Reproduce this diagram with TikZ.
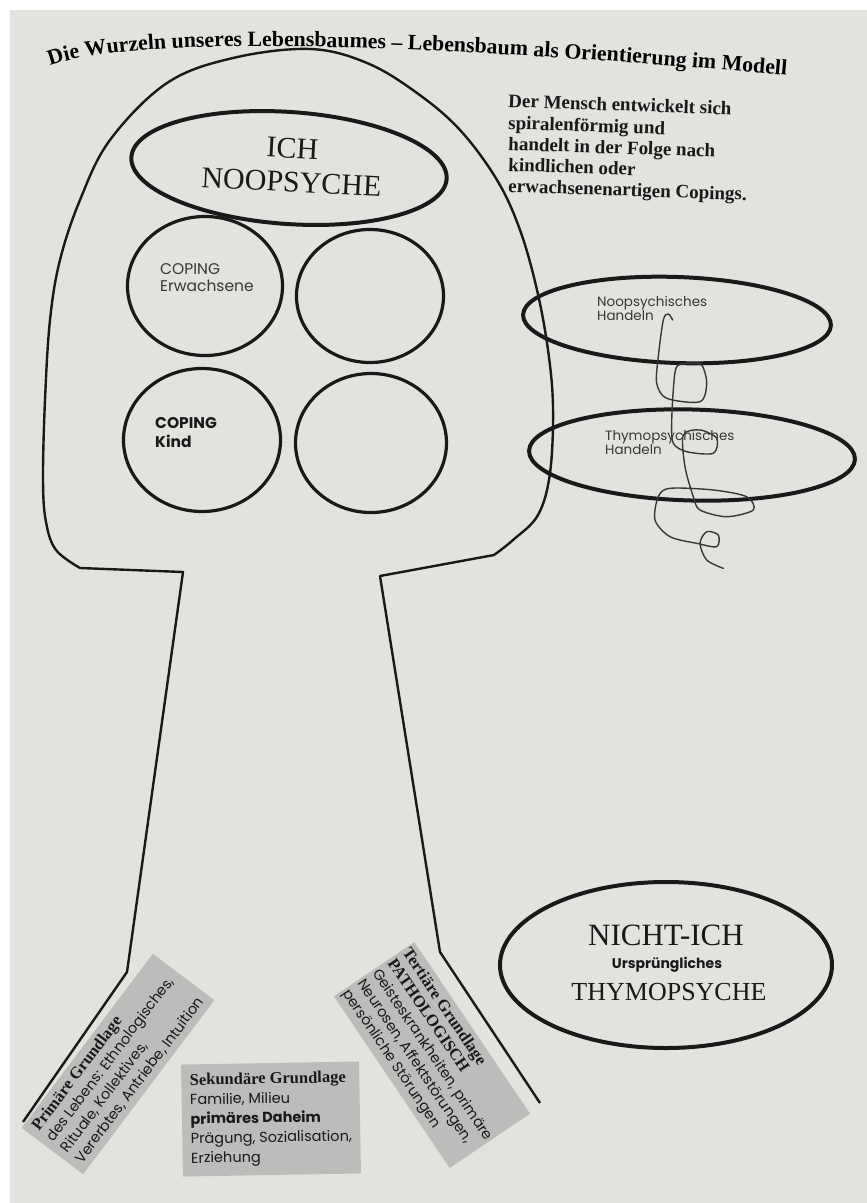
\documentclass[tikz,border=0pt]{standalone}
\usepackage{fontspec}
\setmainfont{Liberation Serif}
\newfontfamily\gothic{Poppins}
\usetikzlibrary{shapes.geometric,decorations.text}
\definecolor{paper}{RGB}{227,226,223}
\definecolor{ink}{RGB}{25,25,25}
\definecolor{boxgrey}{RGB}{188,188,186}
\definecolor{softink}{RGB}{55,55,55}
\newcommand\bxhead{\rmfamily\bfseries\fontsize{16.5}{18}\selectfont}
\begin{document}
\begin{tikzpicture}[x=1pt,y=-1pt,
  thickring/.style={draw=ink, line width=4pt, ellipse, inner sep=0pt},
  ring/.style={draw=ink, line width=3.2pt, ellipse, inner sep=0pt},
  outline/.style={draw=ink, line width=2.4pt, line join=round},
  serifbig/.style={font=\fontsize{30}{34}\selectfont, inner sep=0pt, anchor=base, text=ink},
  gothtext/.style={font=\gothic\fontsize{15.5}{17}\selectfont, text=softink, inner sep=0pt, anchor=base west},
  smallgoth/.style={font=\gothic\fontsize{13.5}{15}\selectfont, text=softink, inner sep=0pt, anchor=base west},
  greybox/.style={fill=boxgrey, inner sep=0pt, align=left, font=\gothic\fontsize{14.5}{18}\selectfont, text=ink},
  righttext/.style={font=\bfseries\fontsize{19}{21}\selectfont, inner sep=0pt, anchor=base west, rotate=-2, text=ink},
]
\useasboundingbox (0,0) rectangle (867,1203);
\fill[white] (0,0) rectangle (867,1203);
\fill[paper] (10,10) rectangle (867,1203);

% title
\path[decorate, decoration={text along path, text align=left,
  text={|\bfseries\fontsize{21.8}{24}\selectfont|Die Wurzeln unseres Lebensbaumes – Lebensbaum als Orientierung im Modell}}]
  (50,66) .. controls (130,36) and (400,40) .. (840,80);

% right text
\node[righttext] (r1) at (508,107) {Der Mensch entwickelt sich};
\node[righttext] (r2) at (508,129) {spiralenförmig und};
\node[righttext] (r3) at (508,150) {handelt in der Folge nach};
\node[righttext] (r4) at (508,171) {kindlichen oder};
\node[righttext] (r5) at (508,192) {erwachsenenartigen Copings.};

% tree outline
\draw[outline] (23,1122) -- (127,972) -- (183,572) -- (80,568)
  -- plot[smooth, tension=0.6] coordinates {(80,568) (56,550) (46,522) (43,480) (45,400) (50,320) (60,260) (80,200) (110,140) (167,83) (233,58) (310,49) (367,63) (417,93) (460,130) (497,180) (520,230) (537,290) (548,350) (553,407) (550,473) (538,515) (513,540) (494,555)}
  -- (380,576) -- (440,952) -- (540,1103);

% ellipses
\node[thickring, minimum width=316, minimum height=112, rotate=-4] (ich) at (289,168) {};
\node[ring, minimum width=155, minimum height=139] (tl) at (205,286) {};
\node[ring, minimum width=147, minimum height=133] (tr) at (370,296) {};
\node[ring, minimum width=157, minimum height=143] (bl) at (202,440) {};
\node[ring, minimum width=151, minimum height=139] (br) at (371,443) {};
\node[thickring, minimum width=308, minimum height=86, rotate=-2] (noo) at (677,320) {};
\node[thickring, minimum width=326, minimum height=91, rotate=-1.5] (thy) at (692,455) {};
\node[thickring, minimum width=332, minimum height=166] (nicht) at (666,965) {};

% ellipse texts
\node[serifbig, rotate=-3] (ichtxt) at (292,158) {ICH};
\node[serifbig, rotate=-3] (nootxt) at (291,192) {NOOPSYCHE};
\node[gothtext] (ce1) at (160,274) {COPING};
\node[gothtext] (ce2) at (160,291) {Erwachsene};
\node[gothtext, font=\gothic\bfseries\fontsize{15.5}{17}\selectfont, text=ink] (ck1) at (155,428) {COPING};
\node[gothtext, font=\gothic\bfseries\fontsize{15.5}{17}\selectfont, text=ink] (ck2) at (155,447) {Kind};
\node[smallgoth] (n1) at (597,306) {Noopsychisches};
\node[smallgoth] (n2) at (597,320) {Handeln};
\node[smallgoth] (t1) at (605,440) {Thymopsychisches};
\node[smallgoth] (t2) at (605,454) {Handeln};
\node[serifbig, font=\fontsize{31}{31}\selectfont] (nt1) at (666,945) {NICHT-ICH};
\node[anchor=base, inner sep=0pt, font=\gothic\bfseries\fontsize{14}{15}\selectfont, text=ink] (nt2) at (667,968) {Ursprüngliches};
\node[serifbig, font=\fontsize{26}{26}\selectfont] (nt3) at (669,1000) {THYMOPSYCHE};

% spiral
\draw[softink, line width=1.4pt, line cap=round, line join=round]
  plot[smooth, tension=0.5] coordinates {(672.7,320) (668.3,314) (663.3,320) (658.3,356.7) (656.7,383.3) (666.7,398.3) (700,401.7) (706.7,383.3) (701.7,365) (690,363.3) (676.7,366.7) (673.3,390) (671.7,423.3) (673.3,443.3) (686.7,451.7) (713.3,453.3) (716.7,438.3) (700,430) (683.3,435) (685,466.7) (693.3,496.7) (700,510) (726.7,516.7) (753.3,510) (746.7,496.7) (713.3,490) (670,488.3) (658.3,496.7) (655,520) (670,536.7) (696.7,543.3) (716.7,546.7) (718.3,535) (706.7,531.7) (700,543.3) (706.7,560) (723.3,568.3)};

% grey boxes
\node[greybox, minimum width=218, minimum height=77, rotate=53] (prim) at (118,1064)
  {{\bxhead Primäre Grundlage}\\des Lebens: Ethnologisches,\\Rituale, Kollektives,\\Vererbtes, Antriebe, Intuition};
\node[greybox, minimum width=178, minimum height=112, rotate=1, font=\gothic\fontsize{14.5}{19.5}\selectfont] (sek) at (271,1119)
  {{\bxhead Sekundäre Grundlage}\\Familie, Milieu\\\textbf{primäres Daheim}\\Prägung, Sozialisation,\\Erziehung};
\node[greybox, minimum width=207, minimum height=97, rotate=-56] (tert) at (432,1055)
  {{\bxhead Tertiäre Grundlage}\\{\bxhead PATHOLOGISCH}\\Geisteskrankheiten, primäre\\Neurosen, Affektstörungen,\\persönliche Störungen};
\end{tikzpicture}
\end{document}
